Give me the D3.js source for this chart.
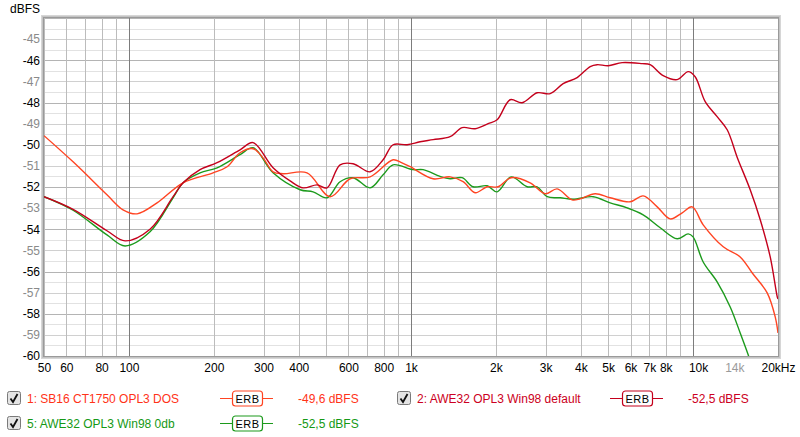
<!DOCTYPE html>
<html><head><meta charset="utf-8">
<script src="https://cdn.jsdelivr.net/npm/d3@7"></script>
<style>
html,body{margin:0;padding:0;background:#fff;}
svg{display:block;font-family:"Liberation Sans",Arial,sans-serif;}
</style></head>
<body><svg id="c" width="800" height="437"></svg>
<script>
// ---- data ----
const seriesNames = ["1: SB16 CT1750 OPL3 DOS", "2: AWE32 OPL3 Win98 default", "5: AWE32 OPL3 Win98 0db"];
const seriesLevels = ["-49,6 dBFS", "-52,5 dBFS", "-52,5 dBFS"];

const sb16Freq = [50,63.4,83.6,95.3,106.9,125.8,155.6,198.7,222.9,247.7,275.5,298.8,324.3,352,428,516.6,608.3,716,864.2,925,993,1198,1376,1530,1688,1862,2037,2265,2645,2990,3297,3726,3978,4497,5082,5984,6653,7462,8295,9150,9928,10860,12790,14690,16210,18310,19550,20000];
const sb16Db   = [-49.57,-50.81,-52.37,-53.08,-53.27,-52.75,-51.8,-51.33,-51.04,-50.38,-50.19,-50.62,-51.28,-51.37,-51.33,-52.46,-51.61,-51.52,-50.71,-50.85,-51.04,-51.61,-51.52,-51.75,-52.27,-51.99,-51.99,-51.56,-51.8,-52.32,-52.09,-52.61,-52.56,-52.32,-52.51,-52.7,-52.42,-52.94,-53.51,-53.22,-52.94,-53.79,-54.83,-55.31,-56.07,-57.01,-58.15,-58.91];

const aweDefFreq = [50,63.4,83.6,96.9,118.8,143.4,155.6,178.7,205.4,247.7,275.5,324.3,372.7,414.4,464.6,504,560.5,623.4,716,796.5,864.2,969,1077,1198,1376,1518,1688,1877,2020,2247,2477,2800,3115,3463,3881,4318,4570,5000,5606,6602,7045,7834,8784,9608,10170,11040,12170,13210,14340,15940,17300,18770,19880,20000];
const aweDefDb   = [-52.46,-53.06,-54.07,-54.55,-54.0,-52.46,-51.8,-51.18,-50.85,-50.24,-49.9,-51.09,-51.71,-52.04,-51.9,-52.04,-50.95,-50.9,-51.28,-50.71,-50.0,-50.0,-49.86,-49.76,-49.62,-49.19,-49.24,-49.0,-48.82,-47.87,-48.01,-47.54,-47.58,-47.11,-46.82,-46.3,-46.21,-46.26,-46.11,-46.16,-46.21,-46.73,-46.92,-46.54,-46.78,-47.96,-48.67,-49.29,-50.6,-52.13,-53.55,-55.31,-57.2,-57.3];

const awe0Freq = [50,63.4,83.6,96.9,118.8,143.4,155.6,178.7,205.4,247.7,275.5,324.3,404.4,449.7,504,560.5,623.4,716,796.5,864.2,1017,1104,1268,1376,1518,1660,1862,2020,2265,2580,2800,3040,3380,3757,4426,5082,5839,6653,7646,8784,9608,10000,10860,12170,13540,14690,15690,16500];
const awe0Db   = [-52.46,-53.1,-54.27,-54.79,-54.12,-52.51,-51.8,-51.33,-51.09,-50.47,-50.14,-51.33,-52.13,-52.23,-52.51,-51.75,-51.56,-52.04,-51.42,-50.95,-51.18,-51.18,-51.5,-51.61,-51.56,-51.99,-51.94,-52.23,-51.52,-51.99,-51.99,-52.46,-52.51,-52.58,-52.46,-52.75,-52.99,-53.32,-53.93,-54.45,-54.22,-54.36,-55.55,-56.49,-57.68,-58.91,-59.95,-60.8];

const xTickValues = [50,60,80,100,200,300,400,600,800,1000,2000,3000,4000,5000,6000,7000,8000,10000,14000,20000];
const xTickLabels = ["50","60","80","100","200","300","400","600","800","1k","2k","3k","4k","5k","6k","7k","8k","10k","14k","20kHz"];
const yTickValues = [-45,-46,-47,-48,-49,-50,-51,-52,-53,-54,-55,-56,-57,-58,-59,-60];

// ---- styles ----
const colors = ["#ff4422", "#c4001c", "#1c9a1c"];
const textColors = ["#ff3318", "#cc0022", "#159915"];

const svg = d3.select("#c");
const L = 44, R = 778, T = 18, B = 356;
const x = d3.scaleLog().domain([50, 20000]).range([L, R]);
const y = d3.scaleLinear().domain([-60, -44]).range([B, T]);

// frame with bevel / shadow
svg.append("rect").attr("x", L - 3).attr("y", T - 3).attr("width", R - L + 6).attr("height", B - T + 6)
  .attr("fill", "#d6d6d6");
svg.append("rect").attr("x", L - 2).attr("y", T - 2).attr("width", R - L + 4).attr("height", B - T + 4)
  .attr("fill", "#c4c4c4");
svg.append("rect").attr("x", L).attr("y", T).attr("width", R - L).attr("height", B - T).attr("fill", "#fff");

const grid = svg.append("g");
// horizontal grid every 0.5 dB
const hVals = d3.range(-60, -43.9, 0.5);
grid.selectAll("line.h").data(hVals).join("line")
  .attr("x1", L).attr("x2", R)
  .attr("y1", d => Math.round(y(d)) + 0.5).attr("y2", d => Math.round(y(d)) + 0.5)
  .attr("stroke", d => (Math.abs(d % 2) === 0) ? "#b4b4b4" : (Number.isInteger(d) ? "#d0d0d0" : "#e2e2e2"))
  .attr("stroke-width", 1);

// vertical grid
const vVals = [];
[10, 100, 1000, 10000].forEach(dec => { for (let k = 1; k <= 9; k++) { const f = dec * k; if (f >= 50 && f <= 20000) vVals.push(f); } });
vVals.push(20000);
grid.selectAll("line.v").data(vVals).join("line")
  .attr("y1", T).attr("y2", B)
  .attr("x1", d => Math.round(x(d)) + 0.5).attr("x2", d => Math.round(x(d)) + 0.5)
  .attr("stroke", d => (d === 100 || d === 1000 || d === 10000) ? "#7c7c7c" : (d > 10000 ? "#dadada" : "#bcbcbc"))
  .attr("stroke-width", 1);

// inner frame line
svg.append("rect").attr("x", L - 0.5).attr("y", T - 0.5).attr("width", R - L + 1).attr("height", B - T + 1)
  .attr("fill", "none").attr("stroke", "#9a9a9a");

// axes
const yAxis = svg.append("g").attr("transform", `translate(${L - 4},0)`)
  .call(d3.axisLeft(y).tickValues(yTickValues).tickSize(0).tickPadding(0).tickFormat(d => String(d)));
yAxis.select(".domain").remove();
yAxis.selectAll("text").attr("font-size", 12).attr("font-family", "Liberation Sans, Arial, sans-serif")
  .attr("fill", d => (Math.abs(d) % 2 === 0) ? "#000" : "#8a8a8a");

const xAxis = svg.append("g").attr("transform", `translate(0,${B + 7})`)
  .call(d3.axisBottom(x).tickValues(xTickValues).tickSize(0).tickPadding(0)
    .tickFormat((d, i) => xTickLabels[i]));
xAxis.select(".domain").remove();
xAxis.selectAll("text").attr("font-size", 12).attr("font-family", "Liberation Sans, Arial, sans-serif")
  .attr("fill", d => d === 14000 ? "#9a9a9a" : "#000");
xAxis.selectAll(".tick").filter(d => d === 10000).select("text").attr("dx", 5);

svg.append("text").attr("x", 10).attr("y", 13).attr("font-size", 12).attr("fill", "#000").text("dBFS");

// curves
svg.append("clipPath").attr("id", "plotclip").append("rect")
  .attr("x", L).attr("y", T).attr("width", R - L).attr("height", B - T);

const seriesData = [
  sb16Freq.map((f, i) => [f, sb16Db[i]]),
  aweDefFreq.map((f, i) => [f, aweDefDb[i]]),
  awe0Freq.map((f, i) => [f, awe0Db[i]])
];
const line = d3.line().x(d => x(d[0])).y(d => y(d[1])).curve(d3.curveCatmullRom.alpha(0.5));
const curves = svg.append("g").attr("clip-path", "url(#plotclip)");
[2, 0, 1].forEach(i => {
  curves.append("path").attr("d", line(seriesData[i])).attr("fill", "none")
    .attr("stroke", colors[i]).attr("stroke-width", 1.4).attr("stroke-linejoin", "round");
});

// legend
const legendPos = [{x: 7, y: 398}, {x: 397, y: 398}, {x: 7, y: 423}];
const legendOff = [
  {text: 20, lineA: 213, lineB: 266, box: 225, val: 291},
  {text: 20, lineA: 213, lineB: 266, box: 225, val: 291},
  {text: 20, lineA: 213, lineB: 266, box: 225, val: 291}
];
legendPos.forEach((p, i) => {
  const g = svg.append("g").attr("transform", `translate(${p.x},${p.y})`);
  const o = legendOff[i];
  // checkbox
  g.append("rect").attr("x", 0.5).attr("y", -6.5).attr("width", 13).attr("height", 13).attr("rx", 2)
    .attr("fill", "#e4e4e4").attr("stroke", "#7a7a7a");
  g.append("path").attr("d", "M3.5,0.5 L6,4 L10.5,-4").attr("fill", "none").attr("stroke", "#111").attr("stroke-width", 1.8);
  g.append("text").attr("x", o.text).attr("y", 4.5).attr("font-size", 12).attr("fill", textColors[i]).text(seriesNames[i]);
  // ERB symbol
  g.append("line").attr("x1", o.lineA).attr("x2", o.lineB).attr("y1", 0.5).attr("y2", 0.5).attr("stroke", colors[i]).attr("stroke-width", 1.2);
  g.append("rect").attr("x", o.box + 0.5).attr("y", -7).attr("width", 30).attr("height", 15).attr("rx", 3)
    .attr("fill", "#fff").attr("stroke", colors[i]).attr("stroke-width", 1.2);
  g.append("text").attr("x", o.box + 15.5).attr("y", 4.5).attr("text-anchor", "middle").attr("font-size", 11)
    .attr("fill", "#000").attr("letter-spacing", 0.5).text("ERB");
  g.append("text").attr("x", o.val).attr("y", 4.5).attr("font-size", 12).attr("fill", textColors[i]).text(seriesLevels[i]);
});
</script></body></html>
